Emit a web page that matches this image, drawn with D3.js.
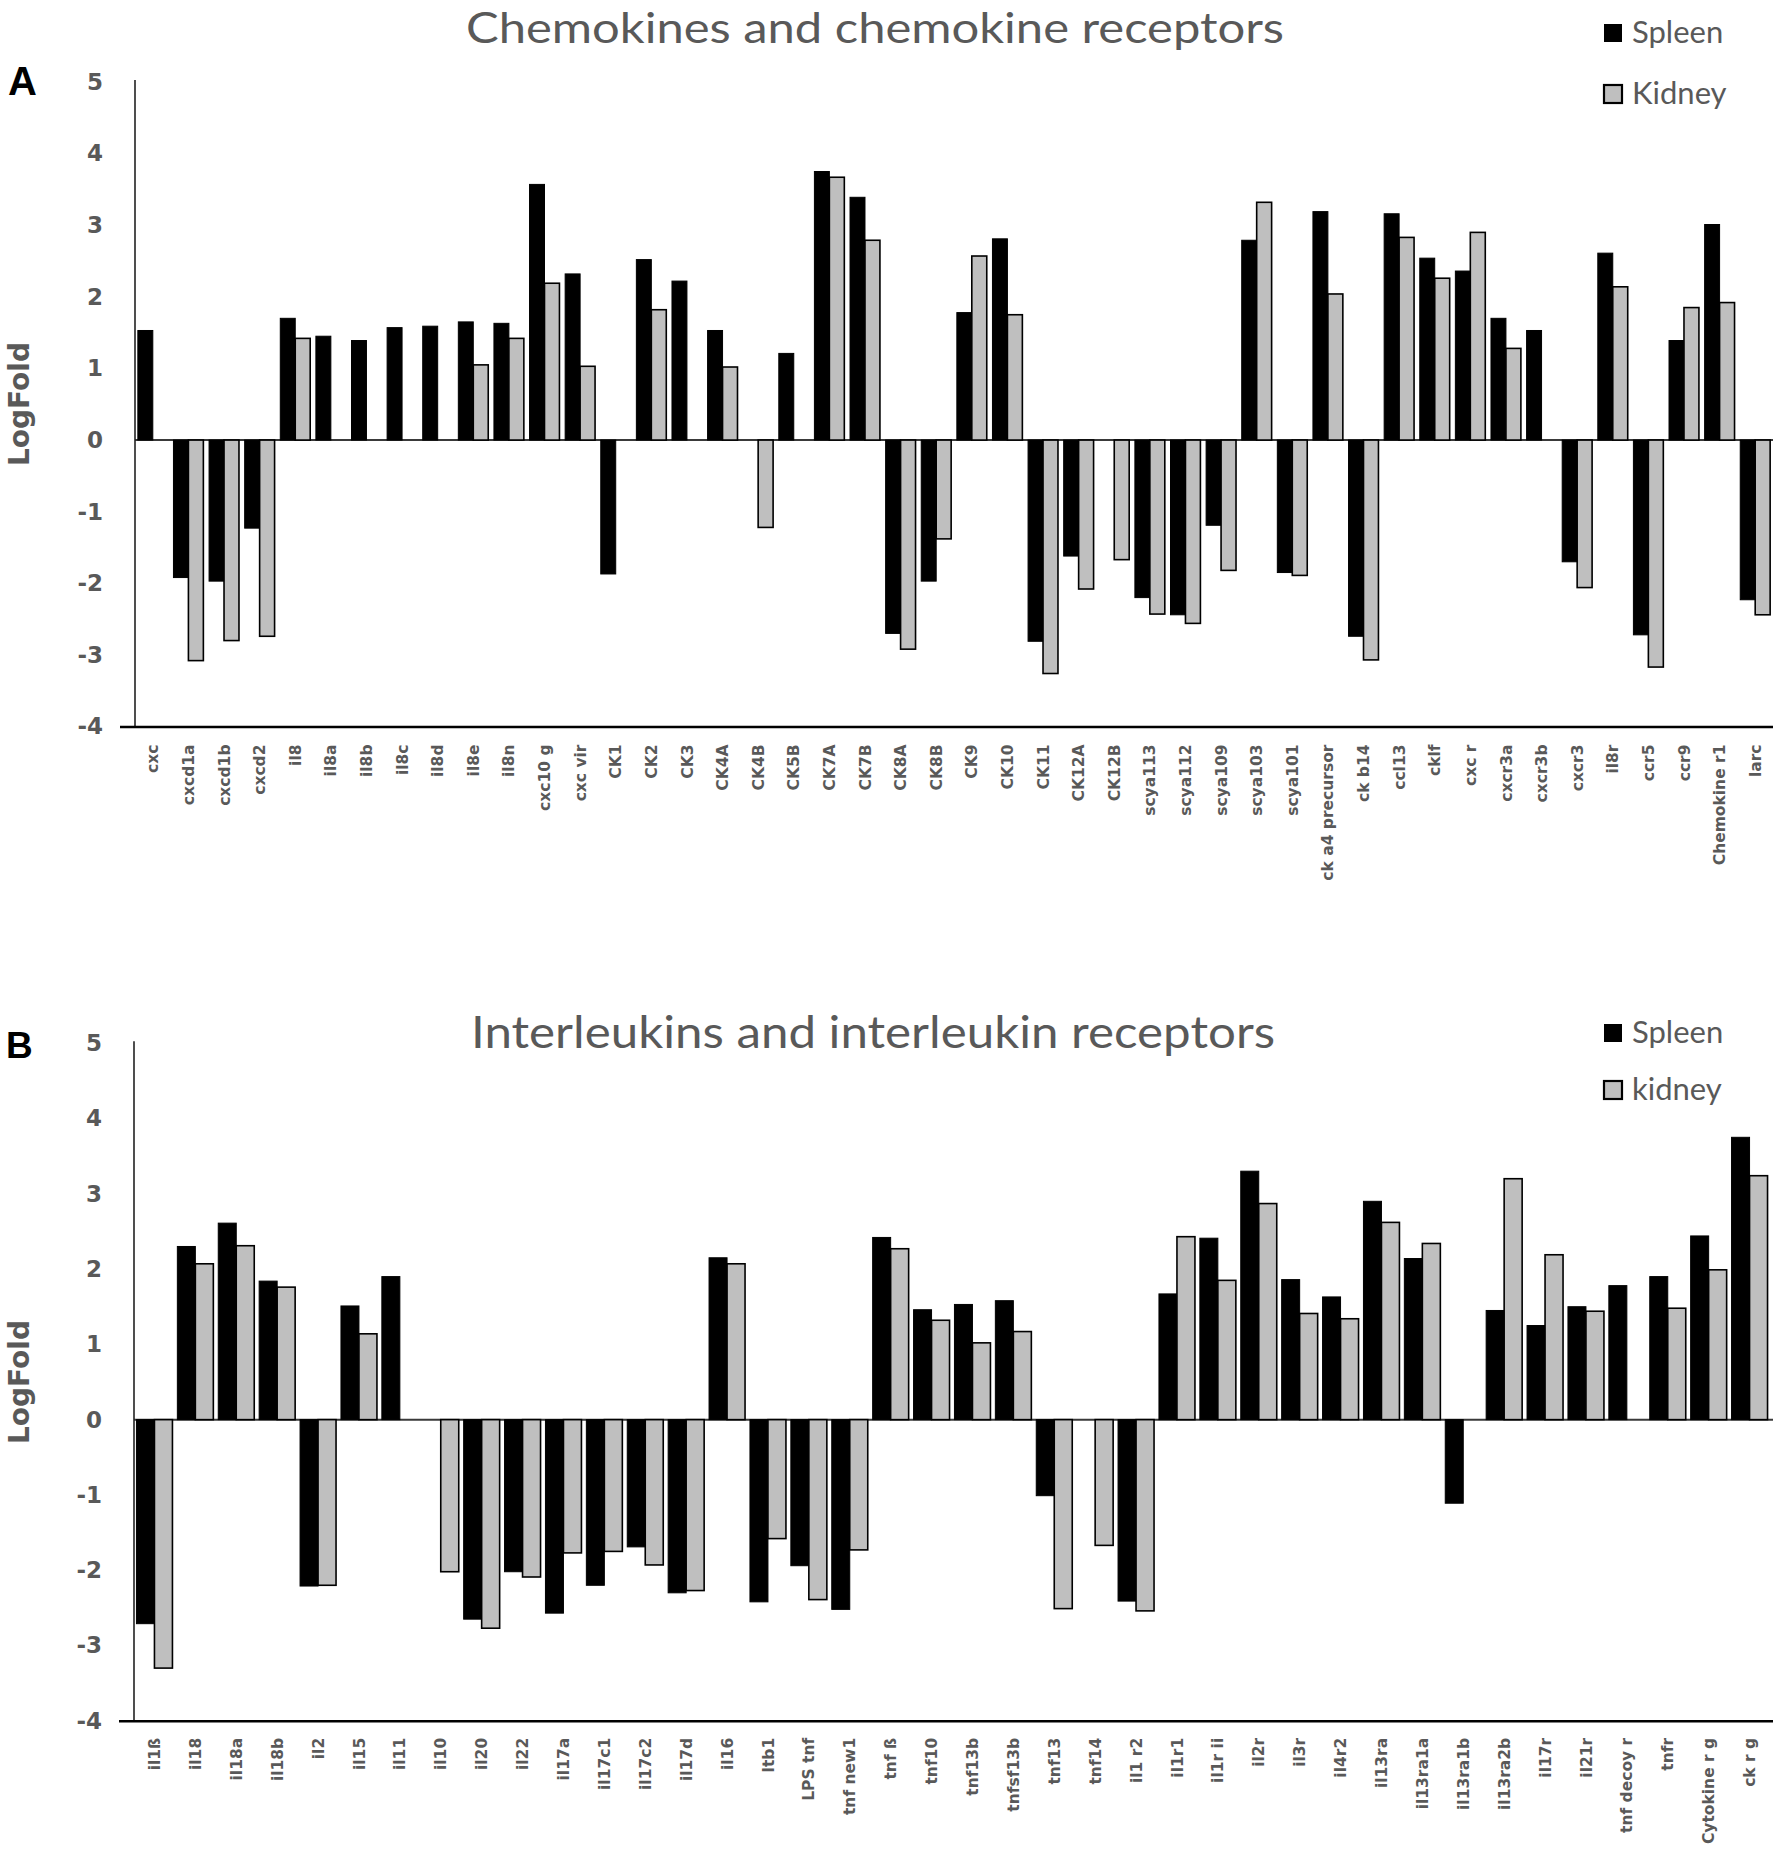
<!DOCTYPE html>
<html>
<head>
<meta charset="utf-8">
<script src="https://cdn.jsdelivr.net/npm/d3@7"></script>
<style>
  html, body { margin: 0; padding: 0; background: #fff; }
  svg { display: block; }
</style>
</head>
<body>
<script>
// ---------------- DATA ----------------
const catsA = ["cxc","cxcd1a","cxcd1b","cxcd2","il8","il8a","il8b","il8c","il8d","il8e","il8n","cxc10 g","cxc vir","CK1","CK2","CK3","CK4A","CK4B","CK5B","CK7A","CK7B","CK8A","CK8B","CK9","CK10","CK11","CK12A","CK12B","scya113","scya112","scya109","scya103","scya101","ck a4 precursor","ck b14","ccl13","cklf","cxc r","cxcr3a","cxcr3b","cxcr3","il8r","ccr5","ccr9","Chemokine r1","larc"];
const spleenA = [1.53,-1.92,-1.97,-1.23,1.70,1.45,1.39,1.57,1.59,1.65,1.63,3.57,2.32,-1.87,2.52,2.22,1.53,null,1.21,3.75,3.39,-2.70,-1.97,1.78,2.81,-2.81,-1.62,null,-2.20,-2.44,-1.19,2.79,-1.85,3.19,-2.74,3.16,2.54,2.36,1.70,1.53,-1.70,2.61,-2.72,1.39,3.01,-2.23];
const kidneyA = [null,-3.08,-2.80,-2.74,1.42,null,null,null,null,1.05,1.42,2.19,1.03,null,1.82,null,1.02,-1.22,null,3.67,2.79,-2.92,-1.38,2.57,1.75,-3.26,-2.08,-1.67,-2.43,-2.56,-1.82,3.32,-1.89,2.04,-3.07,2.83,2.26,2.90,1.28,null,-2.06,2.14,-3.17,1.85,1.92,-2.44];

const catsB = ["il1ß","il18","il18a","il18b","il2","il15","il11","il10","il20","il22","il17a","il17c1","il17c2","il17d","il16","ltb1","LPS tnf","tnf new1","tnf ß","tnf10","tnf13b","tnfsf13b","tnf13","tnf14","il1 r2","il1r1","il1r ii","il2r","il3r","il4r2","il13ra","il13ra1a","il13ra1b","il13ra2b","il17r","il21r","tnf decoy r","tnfr","Cytokine r g","ck r g"];
const spleenB = [-2.71,2.30,2.61,1.84,-2.21,1.51,1.90,null,-2.65,-2.02,-2.57,-2.20,-1.69,-2.30,2.15,-2.42,-1.94,-2.52,2.42,1.46,1.53,1.58,-1.01,null,-2.41,1.67,2.41,3.30,1.86,1.63,2.90,2.14,-1.11,1.45,1.25,1.50,1.78,1.90,2.44,3.75];
const kidneyB = [-3.30,2.07,2.31,1.76,-2.20,1.14,null,-2.02,-2.77,-2.09,-1.77,-1.75,-1.93,-2.27,2.07,-1.58,-2.39,-1.73,2.27,1.32,1.02,1.17,-2.51,-1.67,-2.54,2.43,1.85,2.87,1.41,1.34,2.62,2.34,null,3.20,2.19,1.44,null,1.48,1.99,3.24];

const yTicks = [5,4,3,2,1,0,-1,-2,-3,-4];
const seriesNames = ["Spleen","Kidney"];
const seriesNamesB = ["Spleen","kidney"];
const titleA = "Chemokines and chemokine receptors";
const titleB = "Interleukins and interleukin receptors";

// ---------------- DRAW ----------------
const W = 1773, H = 1849;
const svg = d3.select("body").append("svg").attr("width", W).attr("height", H);

const GRAY_TXT = "#595959";
const KID_FILL = "#bfbfbf";

function panel(cfg) {
  const g = svg.append("g");
  const x = d3.scaleBand().domain(cfg.cats).range([cfg.x0, cfg.x1])
    .paddingInner(cfg.pad).paddingOuter(cfg.pad / 2);
  const xs = d3.scaleBand().domain([0, 1]).range([0, x.bandwidth()]);
  const y = d3.scaleLinear().domain([-4, 5]).range([cfg.yBottom, cfg.yTop]);

  // zero line
  g.append("line")
    .attr("x1", cfg.x0).attr("x2", W)
    .attr("y1", y(0)).attr("y2", y(0))
    .attr("stroke", "#3a3a3a").attr("stroke-width", 2);

  const rows = cfg.cats.map((c, i) => ({c, v: [cfg.s[i], cfg.k[i]]}));
  const grp = g.selectAll("g.cat").data(rows).join("g")
    .attr("transform", d => `translate(${x(d.c)},0)`);
  grp.selectAll("rect").data(d => d.v.map((v, j) => ({v, j})).filter(e => e.v !== null))
    .join("rect")
    .attr("x", e => xs(e.j))
    .attr("width", xs.bandwidth())
    .attr("y", e => Math.min(y(e.v), y(0)))
    .attr("height", e => Math.abs(y(e.v) - y(0)))
    .attr("fill", e => e.j === 0 ? "#000" : KID_FILL)
    .attr("stroke", "#000")
    .attr("stroke-width", e => e.j === 0 ? 1 : 1.6);

  // y axis line
  g.append("line")
    .attr("x1", cfg.x0).attr("x2", cfg.x0)
    .attr("y1", cfg.yTop - 2).attr("y2", cfg.yBottom)
    .attr("stroke", "#222").attr("stroke-width", 1.6);
  // bottom axis line
  g.append("line")
    .attr("x1", cfg.x0 - 15).attr("x2", W)
    .attr("y1", cfg.yBottom + 0.5).attr("y2", cfg.yBottom + 0.5)
    .attr("stroke", "#000").attr("stroke-width", 2.6);

  // y tick labels
  const ya = g.append("g").attr("transform", `translate(${cfg.x0},0)`)
    .call(d3.axisLeft(y).tickValues(yTicks).tickSize(0).tickPadding(32).tickFormat(d => String(d)));
  ya.select(".domain").remove();
  ya.selectAll("text")
    .attr("font-family", "DejaVu Sans").attr("font-weight", "bold")
    .attr("font-size", 23).attr("fill", GRAY_TXT);

  // x tick labels
  const xa = g.append("g").attr("transform", `translate(0,${cfg.yBottom})`)
    .call(d3.axisBottom(x).tickSize(0));
  xa.select(".domain").remove();
  xa.selectAll("text")
    .attr("transform", "rotate(-90)")
    .attr("x", -cfg.labGap).attr("y", 0).attr("dy", "0.36em")
    .attr("text-anchor", "end")
    .attr("font-family", "DejaVu Sans").attr("font-weight", "bold")
    .attr("font-size", 15.5).attr("fill", GRAY_TXT);

  // title
  g.append("text")
    .attr("x", cfg.titleX).attr("y", cfg.titleY)
    .attr("font-family", "Lato").attr("font-size", cfg.titleSize)
    .attr("fill", GRAY_TXT)
    .attr("textLength", cfg.titleLen).attr("lengthAdjust", "spacingAndGlyphs")
    .text(cfg.title);

  // y label
  g.append("text")
    .attr("transform", `translate(29,${cfg.ylabY}) rotate(-90)`)
    .attr("text-anchor", "middle")
    .attr("font-family", "DejaVu Sans").attr("font-weight", "bold")
    .attr("font-size", 28).attr("fill", GRAY_TXT)
    .text("LogFold");

  // panel letter
  g.append("text")
    .attr("x", cfg.letterX).attr("y", cfg.letterY)
    .attr("font-family", "Liberation Sans").attr("font-weight", "bold")
    .attr("font-size", cfg.letterSize).attr("fill", "#000")
    .text(cfg.letter);

  // legend
  const lg = g.append("g").selectAll("g").data(cfg.names).join("g")
    .attr("transform", (d, i) => `translate(1604,${cfg.legY + i * cfg.legStep})`);
  lg.append("rect")
    .attr("x", 0).attr("y", -19).attr("width", 18).attr("height", 18)
    .attr("fill", (d, i) => i === 0 ? "#000" : KID_FILL)
    .attr("stroke", "#000").attr("stroke-width", (d, i) => i === 0 ? 0 : 2.2);
  lg.append("text")
    .attr("x", 28).attr("y", 0)
    .attr("font-family", "Lato").attr("font-size", 31)
    .attr("fill", GRAY_TXT)
    .text(d => d);
}

panel({
  cats: catsA, s: spleenA, k: kidneyA,
  x0: 135, x1: 1773, pad: 0.16,
  yTop: 82, yBottom: 726.5,
  labGap: 18,
  title: titleA, titleX: 466, titleY: 43, titleSize: 42, titleLen: 818,
  ylabY: 404,
  letter: "A", letterX: 8, letterY: 95, letterSize: 40,
  names: seriesNames, legY: 43, legStep: 61
});

panel({
  cats: catsB, s: spleenB, k: kidneyB,
  x0: 134, x1: 1770, pad: 0.12,
  yTop: 1043.2, yBottom: 1720.8,
  labGap: 17,
  title: titleB, titleX: 471, titleY: 1048, titleSize: 44, titleLen: 804,
  ylabY: 1382,
  letter: "B", letterX: 6, letterY: 1058, letterSize: 37,
  names: seriesNamesB, legY: 1043, legStep: 57
});
</script>
</body>
</html>
